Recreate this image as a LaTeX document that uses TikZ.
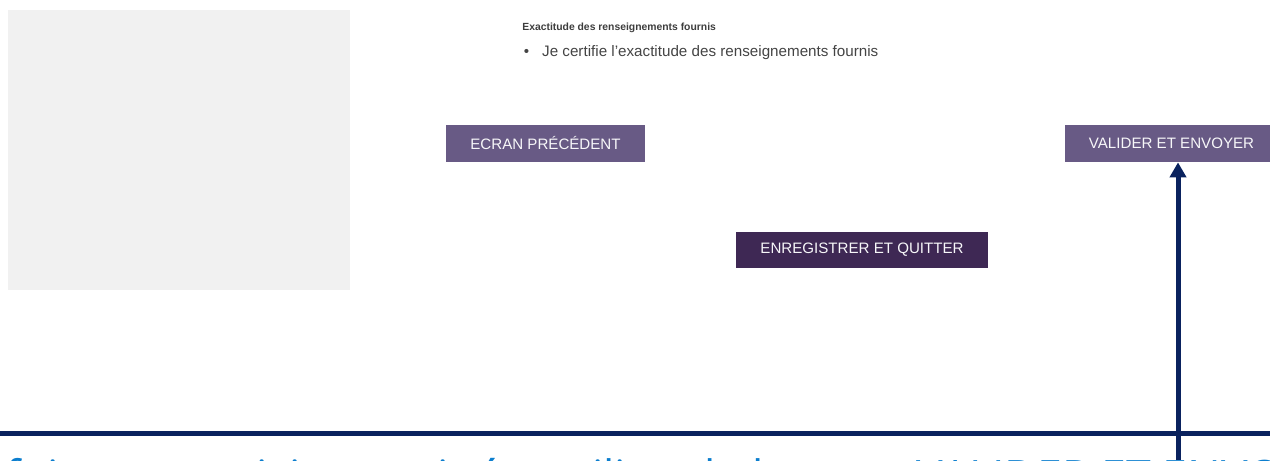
\documentclass[tikz,border=0pt]{standalone}
\usepackage{fontspec}
\setmainfont{Liberation Sans}
\newfontfamily\clairfont{Open Sans}
\usepackage{xcolor}
\usetikzlibrary{arrows.meta,positioning}
\definecolor{panelgray}{RGB}{241,241,241}
\definecolor{mauve}{RGB}{104,90,133}
\definecolor{aubergine}{RGB}{62,40,84}
\definecolor{marine}{RGB}{10,34,94}
\definecolor{bleuciel}{RGB}{12,126,206}
\definecolor{texte}{RGB}{68,68,68}

\begin{document}
\begin{tikzpicture}[x=0.02cm, y=-0.02cm,
    bouton/.style={fill=mauve, text=white!95!mauve, inner sep=0pt,
        font=\fontsize{8.6}{10}\selectfont, minimum height=37*0.02cm},
    fleche/.style={marine, line width=2.85pt, -{Triangle[width=9.2pt, length=8.6pt]}}]
    \useasboundingbox (0,0) rectangle (1270,460);

    % Panneau gris
    \fill[panelgray] (8,10) rectangle (350,290);

    % Case a certifier
    \node[anchor=west, inner sep=0pt, text=texte!90!black,
        font=\fontsize{5.9}{7}\selectfont\bfseries] (titre) at (522,27.5)
        {Exactitude des renseignements fournis};
    \node[anchor=west, inner sep=0pt, text=texte,
        font=\fontsize{8.65}{10}\selectfont] (certif) at (523.5,53)
        {\textbullet\hspace{7.4pt}Je certifie l'exactitude des renseignements fournis};

    % Boutons
    \node[bouton, minimum width=199*0.02cm] (precedent) at (545.5,143.5) {ECRAN PRÉCÉDENT};
    \node[bouton, minimum width=213*0.02cm] (valider) at (1171.5,143.5) {VALIDER ET ENVOYER};
    \node[bouton, fill=aubergine, minimum width=252*0.02cm, minimum height=36*0.02cm]
        (quitter) at (862,250) {ENREGISTRER ET QUITTER};

    % Consigne (coupee en bas)
    \begin{scope}
        \clip (0,0) rectangle (1270,460);
        \node[anchor=base west, inner sep=0pt, text=bleuciel,
            font=\fontsize{25.4}{30}\clairfont] (envoi) at (916,492) {VALIDER ET ENVOYER};
        \node[base left=6.5pt of envoi, inner sep=0pt, text=bleuciel,
            font=\fontsize{25.4}{30}\clairfont] (consigne)
            {Une fois votre saisie terminée, utilisez le bouton};
    \end{scope}

    % Filet et fleche
    \draw[marine, line width=2.85pt] (0,433.5) -- (1270,433.5);
    \coordinate (pied) at (1178,460);
    \draw[fleche] (pied) -- (pied |- valider.south);
\end{tikzpicture}
\end{document}
